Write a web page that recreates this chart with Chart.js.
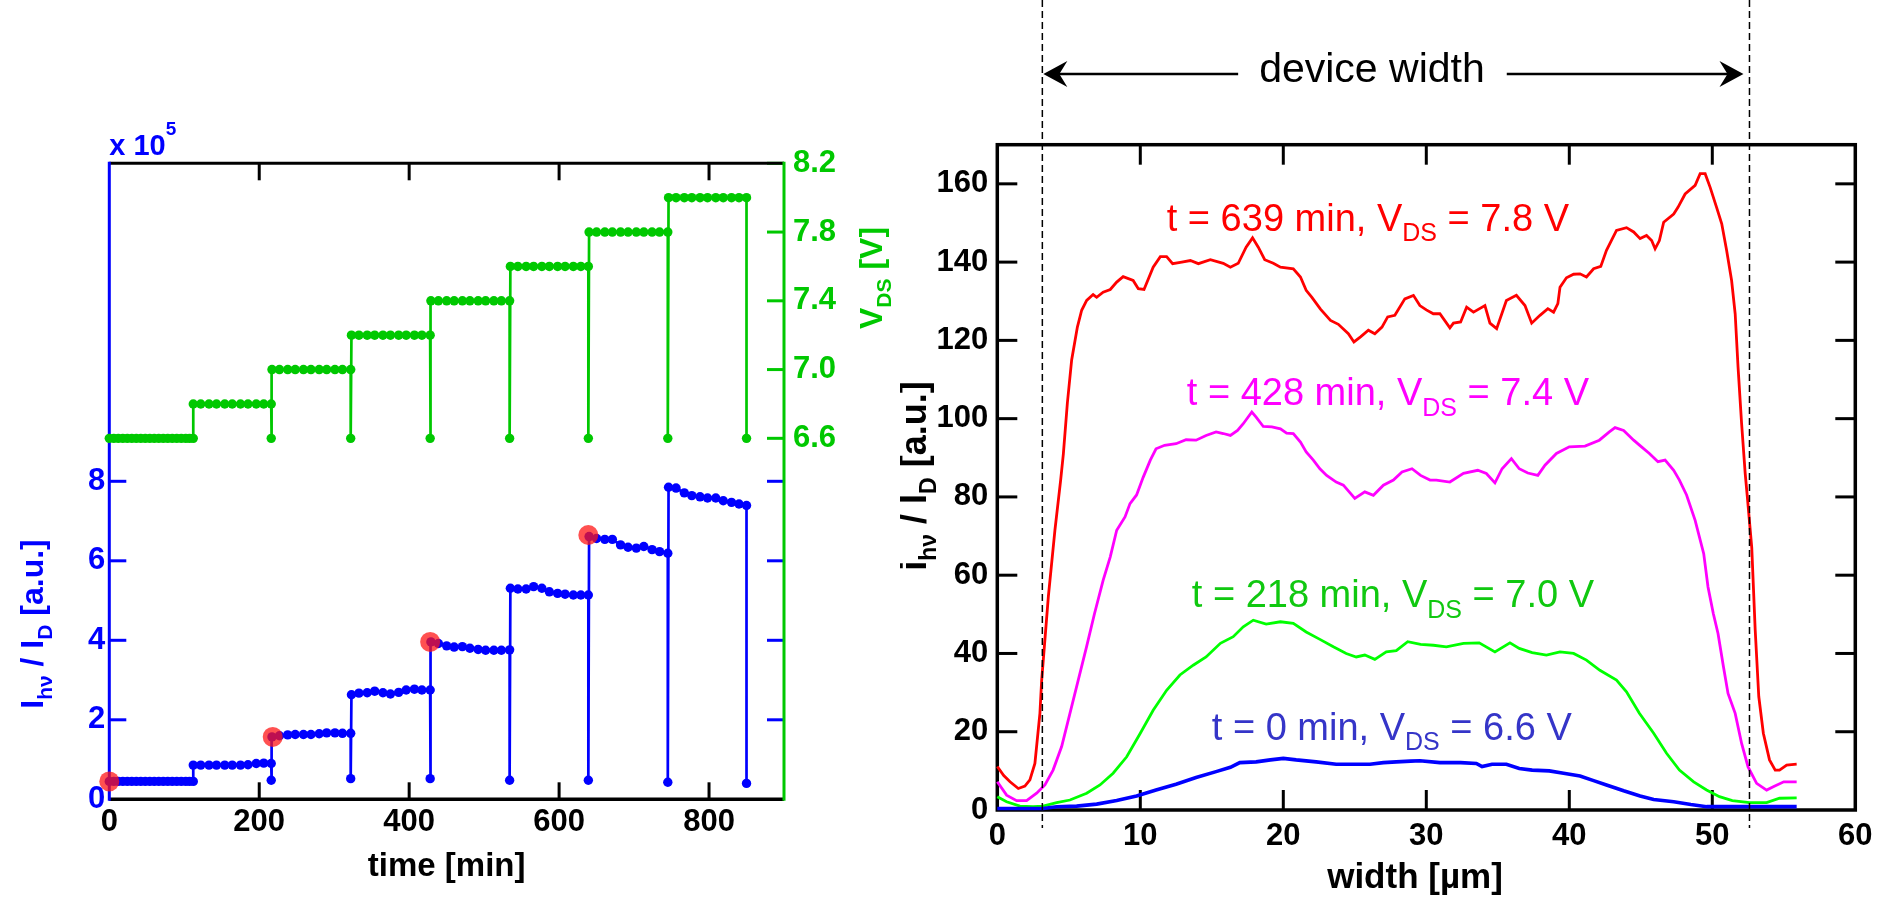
<!DOCTYPE html>
<html>
<head>
<meta charset="utf-8">
<script src="https://cdn.jsdelivr.net/npm/chart.js@4.4.1/dist/chart.umd.min.js"></script>
<style>
html,body{margin:0;padding:0;background:#fff;}
#wrap{position:relative;width:1884px;height:897px;overflow:hidden;}
#timeChart{position:absolute;left:0;top:0;width:900px;height:897px;}
#profChart{position:absolute;left:900px;top:0;width:984px;height:897px;}
</style>
</head>
<body>
<div id="wrap">
  <canvas id="timeChart" width="900" height="897"></canvas>
  <canvas id="profChart" width="984" height="897"></canvas>
</div>
<script>
// ---- left panel: stress test, ratio and V_DS vs time ----
const timeMin=[0,6,12,18,24,30,36,42,48,54,60,66,72,78,84,90,96,102,107,112,
  112,122,133,143,154,164,175,185,196,206,216, 216,
  217,227,238,248,259,269,280,290,301,311,322, 322,
  323,333,344,354,365,375,386,396,407,417,428, 428,
  429,439,450,460,471,481,492,502,513,523,534, 534,
  535,545,556,566,577,587,598,608,619,629,639, 639,
  640,650,661,671,682,692,703,713,724,734,745, 745,
  746,756,767,777,788,798,809,819,830,840,850, 850];
const ihvRatio=[0.45,0.45,0.45,0.45,0.45,0.45,0.45,0.45,0.45,0.45,0.45,0.45,0.45,0.45,0.45,0.45,0.45,0.45,0.45,0.45,
  0.86,0.86,0.86,0.86,0.86,0.86,0.86,0.87,0.90,0.91,0.90, 0.48,
  1.57,1.60,1.62,1.63,1.63,1.63,1.65,1.67,1.67,1.66,1.66, 0.52,
  2.63,2.67,2.68,2.72,2.68,2.65,2.69,2.75,2.77,2.75,2.75, 0.52,
  3.96,3.92,3.86,3.83,3.84,3.80,3.77,3.75,3.75,3.75,3.76, 0.48,
  5.31,5.29,5.29,5.35,5.31,5.22,5.18,5.16,5.14,5.14,5.14, 0.48,
  6.61,6.56,6.54,6.54,6.40,6.34,6.32,6.36,6.28,6.23,6.19, 0.43,
  7.85,7.83,7.71,7.64,7.61,7.58,7.58,7.51,7.47,7.43,7.39, 0.40];
const vdsVolt=[6.6,6.6,6.6,6.6,6.6,6.6,6.6,6.6,6.6,6.6,6.6,6.6,6.6,6.6,6.6,6.6,6.6,6.6,6.6,6.6,
  6.8,6.8,6.8,6.8,6.8,6.8,6.8,6.8,6.8,6.8,6.8, 6.6,
  7.0,7.0,7.0,7.0,7.0,7.0,7.0,7.0,7.0,7.0,7.0, 6.6,
  7.2,7.2,7.2,7.2,7.2,7.2,7.2,7.2,7.2,7.2,7.2, 6.6,
  7.4,7.4,7.4,7.4,7.4,7.4,7.4,7.4,7.4,7.4,7.4, 6.6,
  7.6,7.6,7.6,7.6,7.6,7.6,7.6,7.6,7.6,7.6,7.6, 6.6,
  7.8,7.8,7.8,7.8,7.8,7.8,7.8,7.8,7.8,7.8,7.8, 6.6,
  8.0,8.0,8.0,8.0,8.0,8.0,8.0,8.0,8.0,8.0,8.0, 6.6];
const markTime=[0,218,428,639];
const markRatio=[0.45,1.57,3.96,6.65];
const timeTicks=[0,200,400,600,800];
const ratioTicks=[0,2,4,6,8];
const vdsTicks=[6.6,7.0,7.4,7.8,8.2];

// ---- right panel: emission profiles across the device ----
const w639=[0,0.45,0.89,1.47,1.93,2.28,2.63,2.98,3.1,3.57,4.03,4.43,4.62,4.9,5.2,5.6,5.9,6.25,6.7,6.95,7.4,7.9,8.35,8.8,9.5,9.86,10.26,10.9,11.4,11.84,12.26,12.9,13.5,14.06,14.9,15.8,16.3,16.85,17.4,17.85,18.25,18.7,19.3,19.8,20.7,21.2,21.6,22,22.6,23.3,23.85,24.55,24.94,25.4,25.95,26.4,26.9,27.3,27.8,28.5,29.1,29.55,30.0,30.49,30.95,31.65,31.9,32.4,32.82,33.3,34.1,34.45,34.92,35.6,36.3,36.9,37.37,37.95,38.5,38.9,39.2,39.35,39.8,40.3,40.75,41.2,41.7,42.2,42.6,43.3,44.0,44.5,44.95,45.4,45.76,46.0,46.3,46.6,47.3,47.6,48.1,48.8,49.15,49.5,49.85,50.3,50.66,51.0,51.35,51.6,51.8,52.05,52.3,52.45,52.76,53.0,53.25,53.57,54.0,54.4,54.7,55.2,55.9];
const i639=[11.1,8.8,7.2,5.5,6.1,7.7,11.9,24.7,33,54.5,71.5,84.3,91,104,115,123.4,127.7,130.2,131.7,131.0,132.3,133,134.9,136.3,135.3,133.2,133,138.7,141.4,141.4,139.6,140,140.4,139.6,140.6,139.7,138.7,139.7,143.8,146.2,143.8,140.6,139.7,138.7,138.3,136.2,132.8,131,128,125.1,124.1,121.7,119.6,120.9,122.6,121.7,123.4,126,126.4,130.6,131.5,128.9,127.8,126.8,126.8,123.2,124.4,124.7,128.5,127.2,128.9,124.4,123,130.2,131.5,128.9,124.4,126.4,128.1,127.2,129.4,133.6,136,136.9,137,136.2,138.3,138.9,143,148.1,148.8,147.7,146,146.8,145.5,143.4,145.5,150.2,152.3,154,157.4,159.6,162.6,162.6,159.1,154,149.8,143,135.3,126.8,113.2,98.7,86,80,67,46,29,19.6,12.8,10.2,10.2,11.5,11.7];
const w428=[0,0.65,1.35,2.05,2.75,3.33,3.9,4.5,5.08,5.66,6.24,6.8,7.4,7.9,8.35,8.93,9.28,9.74,10.2,10.7,11.1,11.7,12.5,13.2,13.9,14.6,15.3,15.8,16.3,16.8,17.2,17.8,18.1,18.6,19.2,19.8,20.23,20.7,21.2,21.6,22.1,22.56,23.03,23.7,24.2,24.7,25.0,25.7,26.3,27,27.7,28.3,29,29.6,30.26,30.7,31.65,32.6,33.6,34.2,34.8,35.3,35.95,36.5,37.1,37.8,38.3,39.1,40,41.1,42.1,42.8,43.2,43.8,44.5,45.05,45.6,46.2,46.7,47.3,47.7,48.2,48.8,49.4,49.7,50.07,50.4,50.78,51.1,51.6,52.05,52.5,53.1,53.8,54.3,55,55.9];
const i428=[7.2,3.8,2.4,2.4,4.3,6.4,10.2,16.2,24.7,33.2,41.7,50.2,58.7,64.7,71.5,74.9,78.3,80.5,85,89.4,92.3,93.2,93.6,94.6,94.5,95.7,96.6,96.2,95.7,97,98.7,101.7,100.4,98,97.9,97.4,96.3,96.2,94,91.5,89.4,87.2,85.5,83.8,83,80.9,79.6,81.3,80.4,83,84.3,86.4,87.2,85.5,84.3,84.3,83.8,86,86.8,86,83.6,87.2,89.8,87.2,86.1,85.5,88.1,91.1,92.8,93,94.5,96.6,97.7,97,94.5,92.8,91.1,89,89.4,86.8,84.3,80.5,74,65.5,57,50.2,45.1,36.6,29.8,24.7,17,11,6.8,5.1,6.0,7.2,7.2];
const w218=[0,0.65,1.58,2.5,3.2,4.15,5.08,6.25,7.18,8.1,9.05,10,10.9,11.84,12.77,13.7,14.6,15.6,16.5,17.2,17.9,18.8,19.8,20.7,21.6,22.56,23.5,24.4,25.1,25.7,26.4,27.2,27.9,28.7,29.6,30.5,31.4,32.6,33.7,34.8,35.85,36.5,37.4,38.4,39.35,40.3,41.2,42.14,43.3,44,44.9,45.9,46.8,47.7,48.7,49.6,50.5,51.4,52.6,53.8,54.7,55.9];
const i218=[3.4,2.1,1.0,0.85,1.0,1.9,2.55,4.3,6.4,9.4,13.6,19.6,25.5,30.6,34.5,37,39.1,42.6,44.3,46.8,48.5,47.5,48.1,47.7,45.5,43.6,41.7,40,39.1,39.6,38.5,40.4,40.7,43,42.3,42.1,41.7,42.6,42.7,40.4,42.7,41.3,40.2,39.6,40.4,40,38.3,35.7,33.2,30.2,24.7,19.6,14.5,10.2,7.2,5.1,3.4,2.4,1.9,1.9,3.0,3.1];
const w0=[0,1.8,3.2,4.15,5.55,6.95,8.35,9.74,11.1,12.5,13.9,15.3,16.3,16.96,18.1,19.1,20,20.9,22.3,23.7,25.1,26.06,27,27.9,28.9,29.56,30.95,32.4,33.5,33.9,34.6,35.6,36.5,37.4,38.6,39.6,40.75,41.7,42.6,43.8,44.95,45.9,47.3,48.5,49.6,50.5,52.9,55.9];
const i0=[0.4,0.4,0.4,0.85,1.0,1.5,2.4,3.6,5.1,6.6,8.3,9.8,10.9,12.1,12.3,12.8,13.2,12.8,12.3,11.7,11.7,11.7,12.1,12.3,12.5,12.6,12.1,12.1,11.9,11.1,11.7,11.7,10.6,10.2,10,9.4,8.7,7.5,6.4,4.9,3.6,2.7,2.1,1.4,0.85,0.85,0.85,0.85];
const widthTicks=[0,10,20,30,40,50,60];
const profTicks=[0,20,40,60,80,100,120,140,160];
const deviceEdges=[3.15,52.6];

const FONT='"Liberation Sans", Arial, Helvetica, sans-serif';
const BLUE='#0000ff', GREEN='#00c800';
const pts=(xs,ys)=>xs.map((x,i)=>({x:x,y:ys[i]}));

function seg(ctx,x1,y1,x2,y2,color,w){
  ctx.beginPath();ctx.moveTo(x1,y1);ctx.lineTo(x2,y2);
  ctx.strokeStyle=color;ctx.lineWidth=w;ctx.stroke();
}

// text with sub/superscripts, optionally rotated
function richText(ctx,parts,x,y,o){
  const fs=p=>(p.sub||p.sup)?Math.round(o.size*0.65):o.size;
  const setF=p=>{ctx.font=(o.bold?'bold ':'')+fs(p)+'px '+FONT;};
  let total=0;
  const ws=parts.map(p=>{setF(p);const w=ctx.measureText(p.t).width;total+=w;return w;});
  ctx.save();
  ctx.translate(x,y);
  if(o.angle) ctx.rotate(o.angle);
  ctx.fillStyle=o.color;ctx.textBaseline='alphabetic';ctx.textAlign='left';
  let cx=o.align==='center'?-total/2:0;
  parts.forEach((p,i)=>{
    setF(p);
    const dy=p.sub?o.size*0.27:(p.sup?-o.size*0.7:0);
    ctx.fillText(p.t,cx,dy);cx+=ws[i];
  });
  ctx.restore();
}

const tickFont={family:FONT,size:31,weight:'bold'};
const noGrid={display:false,drawTicks:false};

const timeFrame={
  id:'timeFrame',
  beforeDatasetsDraw(chart){
    const {ctx,chartArea:a,scales:{x,yI,yV}}=chart;
    const L=17;
    ctx.save();
    timeTicks.slice(1).forEach(v=>{
      const px=x.getPixelForValue(v);
      seg(ctx,px,a.bottom,px,a.bottom-L,'#000',3);
      seg(ctx,px,a.top,px,a.top+L,'#000',3);
    });
    ratioTicks.slice(1).forEach(v=>{
      const py=yI.getPixelForValue(v);
      seg(ctx,a.left,py,a.left+L,py,BLUE,3);
      seg(ctx,a.right,py,a.right-L,py,BLUE,3);
    });
    vdsTicks.forEach(v=>{
      const py=yV.getPixelForValue(v);
      seg(ctx,a.right,py,a.right-L,py,GREEN,3);
    });
    seg(ctx,a.left,a.top,a.right,a.top,'#000',3);
    seg(ctx,a.left,a.bottom,a.right,a.bottom,'#000',3.5);
    seg(ctx,a.left,a.bottom+1.5,a.left,a.top-1.5,BLUE,3);
    seg(ctx,a.right,a.bottom+1.5,a.right,a.top-1.5,GREEN,3);
    ctx.restore();
  },
  afterDraw(chart){
    const {ctx,chartArea:a}=chart;
    richText(ctx,[{t:'I'},{t:'hν',sub:1},{t:' / I'},{t:'D',sub:1},{t:' [a.u.]'}],43,624,
      {size:32,bold:1,color:BLUE,align:'center',angle:-Math.PI/2});
    richText(ctx,[{t:'V'},{t:'DS',sub:1},{t:' [V]'}],882,278,
      {size:32,bold:1,color:GREEN,align:'center',angle:-Math.PI/2});
    richText(ctx,[{t:'time [min]'}],(a.left+a.right)/2,876,{size:33,bold:1,color:'#000',align:'center'});
    richText(ctx,[{t:'x 10'},{t:'5',sup:1}],a.left,155,{size:29,bold:1,color:BLUE});
  }
};

new Chart(document.getElementById('timeChart'),{
  type:'scatter',
  data:{datasets:[
    {label:'marked',data:pts(markTime,markRatio),yAxisID:'yI',showLine:false,
     pointRadius:10,pointBackgroundColor:'rgba(255,20,20,0.74)',pointBorderWidth:0,order:0,clip:false},
    {label:'ihv/ID',data:pts(timeMin,ihvRatio),yAxisID:'yI',showLine:true,borderColor:BLUE,borderWidth:2.7,
     pointRadius:4.7,pointBackgroundColor:BLUE,pointBorderWidth:0,order:1,clip:false},
    {label:'VDS',data:pts(timeMin,vdsVolt),yAxisID:'yV',showLine:true,borderColor:GREEN,borderWidth:2.7,
     pointRadius:4.7,pointBackgroundColor:GREEN,pointBorderWidth:0,order:2,clip:false}
  ]},
  options:{
    responsive:false,animation:false,
    layout:{padding:{top:163.3,left:0,right:0,bottom:0}},
    plugins:{legend:{display:false},tooltip:{enabled:false}},
    scales:{
      x:{type:'linear',min:0,max:900,grid:noGrid,border:{display:false},
        afterBuildTicks:s=>{s.ticks=timeTicks.map(v=>({value:v}));},
        afterFit:s=>{s.height=897-799.3;s.paddingLeft=0;s.paddingRight=0;},
        ticks:{font:tickFont,color:'#000',padding:5,maxRotation:0}},
      yI:{type:'linear',position:'left',min:0,max:16,grid:noGrid,border:{display:false},
        afterBuildTicks:s=>{s.ticks=ratioTicks.map(v=>({value:v}));},
        afterFit:s=>{s.width=109.3;s.paddingTop=0;s.paddingBottom=0;},
        ticks:{font:tickFont,color:BLUE,padding:4}},
      yV:{type:'linear',position:'right',min:4.5,max:8.2,grid:noGrid,border:{display:false},
        afterBuildTicks:s=>{s.ticks=vdsTicks.map(v=>({value:v}));},
        afterFit:s=>{s.width=900-784;s.paddingTop=0;s.paddingBottom=0;},
        ticks:{font:tickFont,color:GREEN,padding:9,callback:v=>v.toFixed(1)}}
    }
  },
  plugins:[timeFrame]
});

// ---- right panel ----
const profLabels=[
  {parts:[{t:'t = 639 min, V'},{t:'DS',sub:1},{t:' = 7.8 V'}],x:11.85,y:148,color:'#ff0000'},
  {parts:[{t:'t = 428 min, V'},{t:'DS',sub:1},{t:' = 7.4 V'}],x:13.25,y:103.4,color:'#ff00ff'},
  {parts:[{t:'t = 218 min, V'},{t:'DS',sub:1},{t:' = 7.0 V'}],x:13.6,y:51.8,color:'#10c810'},
  {parts:[{t:'t = 0 min, V'},{t:'DS',sub:1},{t:' = 6.6 V'}],x:15.0,y:17.9,color:'#3535c8'}
];

function arrowHead(ctx,tipX,y,dir){
  ctx.beginPath();
  ctx.moveTo(tipX,y);
  ctx.lineTo(tipX-dir*24,y-13);
  ctx.lineTo(tipX-dir*16,y);
  ctx.lineTo(tipX-dir*24,y+13);
  ctx.closePath();ctx.fillStyle='#000';ctx.fill();
}

const profFrame={
  id:'profFrame',
  beforeDatasetsDraw(chart){
    const {ctx,chartArea:a,scales:{x,y}}=chart;
    const L=20;
    ctx.save();
    widthTicks.slice(1,-1).forEach(v=>{
      const px=x.getPixelForValue(v);
      seg(ctx,px,a.bottom,px,a.bottom-L,'#000',3);
      seg(ctx,px,a.top,px,a.top+L,'#000',3);
    });
    profTicks.slice(1).forEach(v=>{
      const py=y.getPixelForValue(v);
      seg(ctx,a.left,py,a.left+L,py,'#000',3);
      seg(ctx,a.right,py,a.right-L,py,'#000',3);
    });
    ctx.lineJoin='miter';
    ctx.strokeStyle='#000';ctx.lineWidth=3.5;
    ctx.strokeRect(a.left,a.top,a.right-a.left,a.bottom-a.top);
    ctx.restore();
  },
  afterDatasetsDraw(chart){
    const {ctx,scales:{x,y}}=chart;
    ctx.save();
    // device edges
    ctx.setLineDash([7,4]);
    deviceEdges.forEach(v=>{const px=x.getPixelForValue(v);seg(ctx,px,0,px,828,'#000',1.5);});
    ctx.setLineDash([]);
    // "device width" with arrows
    const xl=x.getPixelForValue(deviceEdges[0]), xr=x.getPixelForValue(deviceEdges[1]);
    const tc=x.getPixelForValue(26.2), ay=74;
    ctx.font='41px '+FONT;
    const tw=ctx.measureText('device width').width;
    ctx.fillStyle='#000';ctx.textAlign='center';ctx.textBaseline='alphabetic';
    ctx.fillText('device width',tc,82);
    seg(ctx,xl+6,ay,tc-tw/2-21,ay,'#000',2.5);
    seg(ctx,tc+tw/2+22,ay,xr-12,ay,'#000',2.5);
    arrowHead(ctx,xl+1,ay,-1);
    arrowHead(ctx,xr-6,ay,1);
    profLabels.forEach(l=>{
      richText(ctx,l.parts,x.getPixelForValue(l.x),y.getPixelForValue(l.y),{size:38,color:l.color});
    });
    ctx.restore();
  },
  afterDraw(chart){
    const {ctx}=chart;
    richText(ctx,[{t:'i'},{t:'hν',sub:1},{t:' / I'},{t:'D',sub:1},{t:' [a.u.]'}],26,476,
      {size:36,bold:1,color:'#000',align:'center',angle:-Math.PI/2});
    richText(ctx,[{t:'width [µm]'}],515,888,{size:35,bold:1,color:'#000',align:'center'});
  }
};

const prof=(label,xs,ys,color,w,order)=>({label:label,data:pts(xs,ys),showLine:true,borderColor:color,
  borderWidth:w,pointRadius:0,tension:0,order:order,clip:false});

new Chart(document.getElementById('profChart'),{
  type:'scatter',
  data:{datasets:[
    prof('639 min',w639,i639,'#ff0000',2.8,3),
    prof('428 min',w428,i428,'#ff00ff',2.8,2),
    prof('218 min',w218,i218,'#00ff00',2.8,1),
    prof('0 min',w0,i0,'#0000ff',3.6,0)
  ]},
  options:{
    responsive:false,animation:false,
    layout:{padding:{top:144.7,left:0,right:984-955.3,bottom:0}},
    plugins:{legend:{display:false},tooltip:{enabled:false}},
    scales:{
      x:{type:'linear',min:0,max:60,grid:noGrid,border:{display:false},
        afterBuildTicks:s=>{s.ticks=widthTicks.map(v=>({value:v}));},
        afterFit:s=>{s.height=897-810;s.paddingLeft=0;s.paddingRight=0;},
        ticks:{font:tickFont,color:'#000',padding:8,maxRotation:0}},
      y:{type:'linear',position:'left',min:0,max:170,grid:noGrid,border:{display:false},
        afterBuildTicks:s=>{s.ticks=profTicks.map(v=>({value:v}));},
        afterFit:s=>{s.width=97.3;s.paddingTop=0;s.paddingBottom=0;},
        ticks:{font:tickFont,color:'#000',padding:9}}
    }
  },
  plugins:[profFrame]
});
</script>
</body>
</html>
